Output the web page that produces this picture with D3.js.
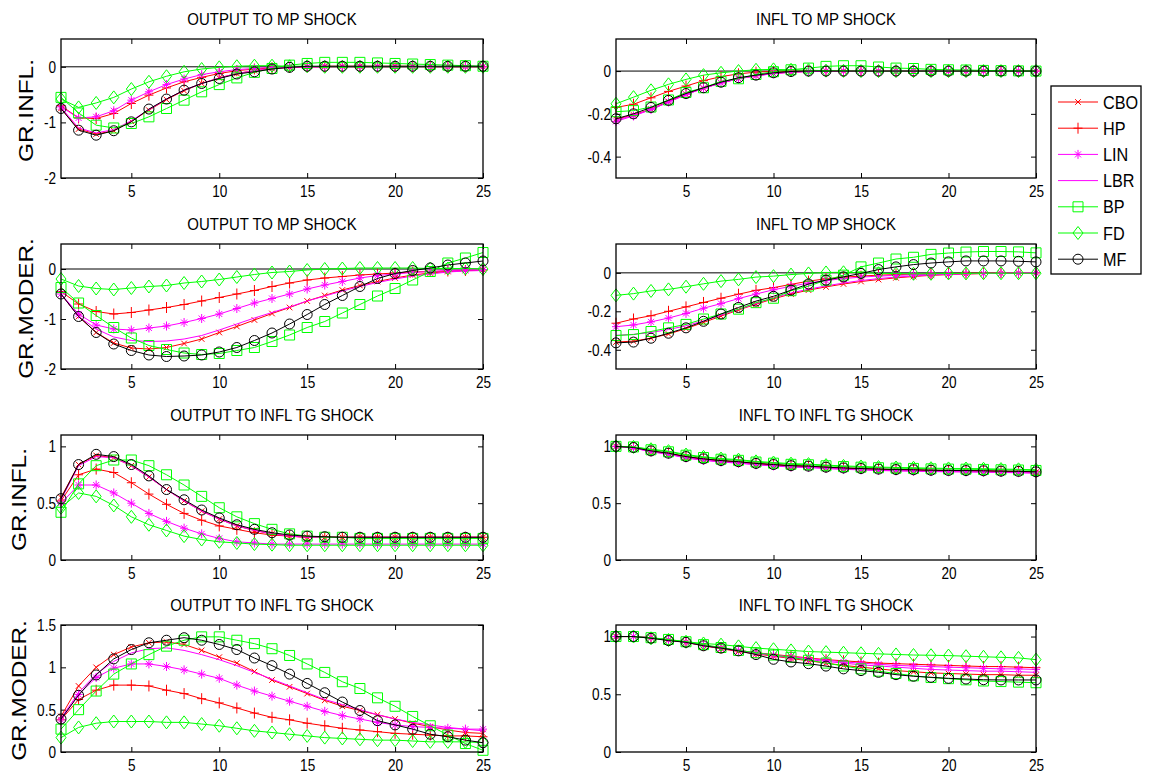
<!DOCTYPE html>
<html>
<head>
<meta charset="utf-8">
<script src="https://cdn.jsdelivr.net/npm/d3@7"></script>
<style>
  body { margin: 0; background: #fff; }
  svg { display: block; }
  text { font-family: "Liberation Sans", Arial, sans-serif; fill: #000; }
</style>
</head>
<body>
<div id="chart"></div>
<script>
// horizons 1..25
var steps = [1,2,3,4,5,6,7,8,9,10,11,12,13,14,15,16,17,18,19,20,21,22,23,24,25];
var seriesNames = ["CBO", "HP", "LIN", "LBR", "BP", "FD", "MF"];
var xTicks = [5, 10, 15, 20, 25];

// each panel: rows in seriesNames order
var outMpInfl = [
  [-0.75,-1.12,-1.21,-1.15,-0.98,-0.78,-0.59,-0.43,-0.3,-0.2,-0.12,-0.07,-0.03,-0.01,0,0.01,0.01,0.01,0.01,0.01,0.01,0,0,0,0],
  [-0.7,-0.92,-0.93,-0.84,-0.66,-0.51,-0.38,-0.27,-0.19,-0.12,-0.07,-0.04,-0.02,-0.01,0,0,0,0,0,0,0,0,0,0,0],
  [-0.72,-0.92,-0.9,-0.79,-0.6,-0.45,-0.32,-0.22,-0.14,-0.09,-0.05,-0.03,-0.01,0,0,0,0,0,0,0,0,0,0,0,0],
  [-0.73,-1.1,-1.19,-1.13,-0.97,-0.77,-0.58,-0.42,-0.3,-0.2,-0.12,-0.07,-0.03,-0.01,0,0,0,0,0,0,0,0,0,0,0],
  [-0.55,-0.83,-1.05,-1.1,-1.02,-0.9,-0.75,-0.6,-0.45,-0.32,-0.2,-0.1,-0.03,0.03,0.06,0.08,0.08,0.08,0.07,0.06,0.05,0.04,0.03,0.02,0.01],
  [-0.58,-0.73,-0.65,-0.55,-0.4,-0.27,-0.17,-0.09,-0.04,-0.01,0.01,0.02,0.02,0.01,0.01,0,0,0,0,0,0,0,0,0,0],
  [-0.75,-1.14,-1.23,-1.15,-0.99,-0.76,-0.58,-0.42,-0.3,-0.21,-0.13,-0.09,-0.04,-0.01,0.01,0.01,0.01,0.01,0.01,0.01,0.01,0.01,0.01,0.01,0.01]
];

var inflMpInfl = [
  [-0.225,-0.205,-0.178,-0.142,-0.108,-0.08,-0.055,-0.035,-0.021,-0.011,-0.005,-0.002,0,0,0,0,0,0,0,0,0,0,0,0,0],
  [-0.17,-0.155,-0.125,-0.095,-0.07,-0.045,-0.026,-0.013,-0.005,-0.001,0,0,0,0,0,0,0,0,0,0,0,0,0,0,0],
  [-0.235,-0.21,-0.18,-0.145,-0.11,-0.08,-0.056,-0.036,-0.022,-0.012,-0.005,-0.002,0,0,0,0,0,0,0,0,0,0,0,0,0],
  [-0.23,-0.207,-0.18,-0.145,-0.11,-0.08,-0.056,-0.036,-0.022,-0.012,-0.005,-0.002,0,0,0,0,0,0,0,0,0,0,0,0,0],
  [-0.19,-0.185,-0.168,-0.135,-0.1,-0.078,-0.048,-0.036,-0.016,-0.003,0.006,0.014,0.022,0.025,0.025,0.019,0.014,0.012,0.008,0.006,0.005,0.003,0.002,0.001,0],
  [-0.153,-0.122,-0.09,-0.062,-0.039,-0.019,-0.008,0,0.006,0.008,0.006,0.004,0.002,0.001,0,0,0,0,0,0,0,0,0,0,0],
  [-0.223,-0.2,-0.17,-0.137,-0.105,-0.078,-0.052,-0.031,-0.019,-0.008,-0.002,0,0,0,0,0,0,0,0,0,0,0,0,0,0]
];

var outMpModer = [
  [-0.5,-0.95,-1.27,-1.48,-1.58,-1.6,-1.57,-1.49,-1.4,-1.27,-1.15,-1.02,-0.89,-0.77,-0.64,-0.53,-0.42,-0.33,-0.25,-0.18,-0.12,-0.08,-0.05,-0.03,-0.02],
  [-0.45,-0.7,-0.85,-0.9,-0.87,-0.82,-0.77,-0.71,-0.64,-0.57,-0.5,-0.43,-0.35,-0.28,-0.22,-0.18,-0.15,-0.12,-0.1,-0.08,-0.06,-0.05,-0.04,-0.03,-0.02],
  [-0.5,-0.9,-1.12,-1.2,-1.22,-1.18,-1.14,-1.07,-0.99,-0.9,-0.79,-0.68,-0.59,-0.5,-0.4,-0.32,-0.25,-0.18,-0.13,-0.1,-0.07,-0.05,-0.03,-0.02,-0.01],
  [-0.5,-0.95,-1.2,-1.36,-1.43,-1.45,-1.44,-1.4,-1.33,-1.22,-1.1,-0.98,-0.87,-0.76,-0.64,-0.54,-0.44,-0.35,-0.27,-0.2,-0.14,-0.1,-0.06,-0.04,-0.03],
  [-0.37,-0.68,-0.93,-1.17,-1.38,-1.53,-1.61,-1.68,-1.71,-1.69,-1.63,-1.57,-1.45,-1.32,-1.17,-1.05,-0.88,-0.71,-0.54,-0.39,-0.22,-0.05,0.12,0.22,0.33],
  [-0.2,-0.34,-0.39,-0.41,-0.38,-0.35,-0.33,-0.28,-0.25,-0.21,-0.16,-0.11,-0.07,-0.05,-0.02,0,0.01,0.02,0.02,0.02,0.02,0.01,0.01,0.01,0],
  [-0.5,-0.95,-1.27,-1.5,-1.63,-1.72,-1.75,-1.74,-1.72,-1.66,-1.57,-1.43,-1.28,-1.1,-0.91,-0.71,-0.53,-0.35,-0.19,-0.09,-0.03,0.02,0.08,0.12,0.16]
];

var inflMpModer = [
  [-0.36,-0.355,-0.34,-0.318,-0.29,-0.258,-0.225,-0.193,-0.163,-0.135,-0.11,-0.09,-0.073,-0.058,-0.045,-0.035,-0.026,-0.019,-0.013,-0.009,-0.006,-0.004,-0.002,-0.001,0],
  [-0.262,-0.24,-0.223,-0.2,-0.177,-0.154,-0.132,-0.111,-0.091,-0.077,-0.06,-0.043,-0.031,-0.022,-0.017,-0.012,-0.009,-0.007,-0.005,-0.003,-0.002,-0.001,0,0,0],
  [-0.28,-0.271,-0.255,-0.235,-0.211,-0.184,-0.16,-0.134,-0.11,-0.088,-0.07,-0.053,-0.04,-0.03,-0.022,-0.017,-0.013,-0.01,-0.008,-0.006,-0.004,-0.003,-0.002,-0.001,0],
  [-0.325,-0.32,-0.31,-0.295,-0.275,-0.25,-0.22,-0.19,-0.16,-0.13,-0.105,-0.085,-0.068,-0.053,-0.04,-0.03,-0.022,-0.016,-0.011,-0.008,-0.005,-0.003,-0.002,-0.001,0],
  [-0.326,-0.321,-0.305,-0.286,-0.268,-0.24,-0.214,-0.189,-0.155,-0.132,-0.093,-0.069,-0.038,-0.012,0.031,0.051,0.072,0.081,0.096,0.103,0.108,0.111,0.111,0.109,0.104],
  [-0.117,-0.108,-0.094,-0.086,-0.072,-0.057,-0.043,-0.034,-0.022,-0.017,-0.009,-0.003,0.002,0.003,0.001,-0.002,-0.004,-0.005,-0.005,-0.003,-0.003,-0.002,-0.002,-0.002,-0.002],
  [-0.364,-0.36,-0.34,-0.314,-0.286,-0.252,-0.214,-0.18,-0.147,-0.122,-0.09,-0.058,-0.038,-0.021,-0.003,0.017,0.031,0.043,0.051,0.057,0.062,0.062,0.062,0.06,0.057]
];

var outTgInfl = [
  [0.55,0.84,0.92,0.9,0.83,0.73,0.62,0.52,0.43,0.36,0.3,0.26,0.23,0.21,0.2,0.2,0.2,0.2,0.2,0.2,0.2,0.2,0.2,0.2,0.2],
  [0.52,0.75,0.8,0.77,0.68,0.58,0.49,0.41,0.35,0.3,0.27,0.24,0.22,0.21,0.2,0.2,0.2,0.2,0.2,0.2,0.2,0.2,0.2,0.2,0.2],
  [0.5,0.66,0.66,0.59,0.5,0.41,0.34,0.28,0.23,0.19,0.16,0.15,0.14,0.14,0.14,0.14,0.14,0.14,0.14,0.14,0.14,0.14,0.14,0.14,0.14],
  [0.53,0.83,0.91,0.9,0.83,0.73,0.62,0.52,0.43,0.36,0.3,0.26,0.23,0.21,0.2,0.2,0.2,0.2,0.2,0.2,0.2,0.2,0.2,0.2,0.2],
  [0.42,0.67,0.83,0.88,0.88,0.83,0.75,0.66,0.56,0.46,0.38,0.32,0.27,0.23,0.21,0.2,0.2,0.19,0.19,0.19,0.19,0.19,0.19,0.19,0.19],
  [0.46,0.59,0.56,0.48,0.38,0.31,0.26,0.21,0.18,0.16,0.15,0.14,0.135,0.13,0.13,0.13,0.13,0.13,0.13,0.13,0.13,0.13,0.13,0.13,0.13],
  [0.54,0.84,0.93,0.91,0.84,0.74,0.62,0.53,0.44,0.37,0.31,0.27,0.24,0.22,0.21,0.205,0.2,0.2,0.2,0.2,0.2,0.2,0.2,0.2,0.2]
];

var inflTgInfl = [
  [1.0,0.99,0.958,0.937,0.907,0.887,0.872,0.862,0.847,0.837,0.827,0.823,0.814,0.807,0.802,0.797,0.793,0.791,0.787,0.785,0.784,0.782,0.779,0.777,0.773],
  [1.0,0.99,0.96,0.94,0.91,0.89,0.875,0.864,0.85,0.84,0.83,0.825,0.817,0.81,0.805,0.8,0.796,0.794,0.79,0.788,0.787,0.785,0.782,0.78,0.776],
  [1.0,0.985,0.952,0.93,0.898,0.877,0.862,0.852,0.838,0.828,0.818,0.814,0.805,0.798,0.793,0.788,0.784,0.782,0.778,0.776,0.775,0.773,0.77,0.768,0.764],
  [1.0,0.987,0.954,0.932,0.9,0.88,0.865,0.855,0.84,0.83,0.82,0.816,0.807,0.8,0.795,0.79,0.786,0.784,0.78,0.778,0.777,0.775,0.772,0.77,0.766],
  [1.0,0.995,0.97,0.952,0.922,0.902,0.887,0.877,0.862,0.852,0.842,0.838,0.829,0.822,0.817,0.812,0.808,0.806,0.802,0.8,0.799,0.797,0.794,0.792,0.788],
  [1.0,0.995,0.975,0.958,0.928,0.908,0.893,0.883,0.868,0.858,0.848,0.844,0.835,0.828,0.823,0.818,0.814,0.812,0.808,0.806,0.805,0.803,0.8,0.798,0.794],
  [1.0,0.99,0.96,0.94,0.91,0.89,0.875,0.865,0.85,0.84,0.83,0.826,0.817,0.81,0.805,0.8,0.796,0.794,0.79,0.788,0.787,0.785,0.782,0.78,0.776]
];

var outTgModer = [
  [0.42,0.78,1.0,1.15,1.24,1.29,1.3,1.27,1.2,1.12,1.05,0.95,0.85,0.77,0.69,0.61,0.54,0.49,0.44,0.39,0.34,0.3,0.26,0.23,0.22],
  [0.38,0.62,0.73,0.79,0.79,0.78,0.73,0.69,0.63,0.58,0.52,0.46,0.41,0.38,0.34,0.31,0.28,0.26,0.24,0.22,0.21,0.2,0.19,0.19,0.18],
  [0.38,0.68,0.88,0.99,1.04,1.04,1.01,0.97,0.92,0.87,0.79,0.72,0.66,0.6,0.54,0.48,0.43,0.39,0.35,0.32,0.3,0.29,0.28,0.27,0.27],
  [0.4,0.7,0.92,1.07,1.17,1.22,1.23,1.2,1.15,1.09,1.02,0.94,0.86,0.78,0.7,0.62,0.56,0.5,0.44,0.39,0.35,0.32,0.29,0.27,0.25],
  [0.27,0.5,0.72,0.92,1.04,1.15,1.25,1.32,1.36,1.36,1.32,1.28,1.22,1.14,1.04,0.94,0.83,0.75,0.64,0.54,0.42,0.31,0.2,0.1,0.02],
  [0.17,0.29,0.34,0.36,0.36,0.36,0.35,0.35,0.33,0.31,0.28,0.25,0.23,0.21,0.19,0.17,0.16,0.15,0.14,0.14,0.13,0.12,0.12,0.12,0.11],
  [0.39,0.67,0.91,1.1,1.21,1.29,1.32,1.35,1.32,1.27,1.21,1.11,1.02,0.92,0.81,0.7,0.59,0.49,0.37,0.32,0.27,0.21,0.18,0.14,0.11]
];

var inflTgModer = [
  [1.0,1.0,0.99,0.97,0.95,0.92,0.895,0.87,0.85,0.83,0.81,0.79,0.77,0.75,0.735,0.72,0.705,0.695,0.685,0.68,0.675,0.67,0.67,0.665,0.665],
  [1.0,1.0,0.99,0.97,0.95,0.925,0.9,0.88,0.86,0.845,0.83,0.815,0.8,0.79,0.78,0.77,0.765,0.76,0.755,0.75,0.745,0.74,0.74,0.735,0.73],
  [1.0,1.0,0.99,0.97,0.95,0.925,0.9,0.88,0.86,0.84,0.825,0.81,0.795,0.78,0.77,0.76,0.75,0.745,0.74,0.735,0.73,0.725,0.72,0.72,0.715],
  [1.0,1.0,0.99,0.97,0.95,0.925,0.9,0.875,0.855,0.835,0.815,0.8,0.785,0.77,0.755,0.745,0.735,0.725,0.715,0.71,0.705,0.7,0.7,0.695,0.69],
  [1.0,1.0,0.99,0.975,0.955,0.93,0.905,0.88,0.86,0.84,0.82,0.795,0.77,0.745,0.72,0.7,0.68,0.66,0.645,0.635,0.625,0.615,0.61,0.605,0.6],
  [1.0,1.0,0.985,0.97,0.955,0.94,0.93,0.915,0.9,0.89,0.88,0.87,0.865,0.86,0.855,0.85,0.845,0.84,0.838,0.835,0.83,0.825,0.82,0.815,0.8],
  [1.0,1.0,0.985,0.965,0.95,0.92,0.9,0.876,0.844,0.803,0.78,0.765,0.744,0.72,0.705,0.69,0.67,0.656,0.647,0.638,0.632,0.626,0.624,0.624,0.624]
];

var panelTitles = ["OUTPUT TO MP SHOCK", "INFL TO MP SHOCK", "OUTPUT TO MP SHOCK", "INFL TO MP SHOCK",
                   "OUTPUT TO INFL TG SHOCK", "INFL TO INFL TG SHOCK", "OUTPUT TO INFL TG SHOCK", "INFL TO INFL TG SHOCK"];
var rowLabels = ["GR.INFL.", "GR.MODER.", "GR.INFL.", "GR.MODER."];
var panelData = [outMpInfl, inflMpInfl, outMpModer, inflMpModer, outTgInfl, inflTgInfl, outTgModer, inflTgModer];
var yDomains = [[-2, 0.5], [-0.5, 0.15], [-2, 0.5], [-0.5, 0.15], [0, 1.1], [0, 1.1], [0, 1.5], [0, 1.1]];
var yTickVals = [[-2, -1, 0], [-0.4, -0.2, 0], [-2, -1, 0], [-0.4, -0.2, 0], [0, 0.5, 1], [0, 0.5, 1], [0, 0.5, 1, 1.5], [0, 0.5, 1]];

// styles
var colors = ["#ff0000", "#ff0000", "#ff00ff", "#ff00ff", "#00ff00", "#00ff00", "#000000"];
var markers = ["x", "plus", "star", "none", "square", "diamond", "circle"];

var width = 1152, height = 780;
var colX = [[61, 483], [616, 1036]];
var rowY = [[39, 178], [244, 369], [435, 560], [625, 752]];
var labelX = [33, 33, 26, 26];

var svg = d3.select("#chart")
  .append("svg")
  .attr("width", width)
  .attr("height", height);

// the source fonts are narrow: squeeze text to a share of its natural length
function squeeze(sel, f) {
  sel.each(function() {
    var w = this.getComputedTextLength();
    d3.select(this).attr("textLength", w * f).attr("lengthAdjust", "spacingAndGlyphs");
  });
}

function markerPath(m) {
  if (m == "x") return "M-2.8,-2.8L2.8,2.8M-2.8,2.8L2.8,-2.8";
  if (m == "plus") return "M-4.5,0L4.5,0M0,-5.5L0,5.5";
  if (m == "star") return "M-4,0L4,0M0,-4.5L0,4.5M-3,-3L3,3M-3,3L3,-3";
  if (m == "square") return "M-5,-5L5,-5L5,5L-5,5Z";
  if (m == "diamond") return "M0,-6.5L5,0L0,6.5L-5,0Z";
  if (m == "circle") return "M5,0A5,5 0 1,1 -5,0A5,5 0 1,1 5,0Z";
  return null;
}

function fmt(v) {
  return String(v);
}

panelData.forEach(function(rows, i) {
  var r = Math.floor(i / 2), c = i % 2;
  var x = d3.scaleLinear().domain([1, 25]).range(colX[c]);
  var y = d3.scaleLinear().domain(yDomains[i]).range([rowY[r][1], rowY[r][0]]);
  var g = svg.append("g");

  // zero line
  if (yDomains[i][0] < 0) {
    g.append("line")
      .attr("x1", x(1)).attr("x2", x(25))
      .attr("y1", y(0)).attr("y2", y(0))
      .attr("stroke", "#000").attr("stroke-width", 1);
  }

  // axes, ticks pointing in
  var bottom = g.append("g").attr("transform", "translate(0," + rowY[r][1] + ")")
    .call(d3.axisBottom(x).tickValues(xTicks).tickSizeInner(-5).tickSizeOuter(0).tickPadding(7).tickFormat(fmt));
  var top = g.append("g").attr("transform", "translate(0," + rowY[r][0] + ")")
    .call(d3.axisTop(x).tickValues(xTicks).tickSizeInner(-5).tickSizeOuter(0).tickFormat(""));
  var left = g.append("g").attr("transform", "translate(" + colX[c][0] + ",0)")
    .call(d3.axisLeft(y).tickValues(yTickVals[i]).tickSizeInner(-5).tickSizeOuter(0).tickPadding(5).tickFormat(fmt));
  var right = g.append("g").attr("transform", "translate(" + colX[c][1] + ",0)")
    .call(d3.axisRight(y).tickValues(yTickVals[i]).tickSizeInner(-5).tickSizeOuter(0).tickFormat(""));
  [bottom, top, left, right].forEach(function(a) {
    a.select(".domain").remove();
    a.selectAll("line").attr("stroke", "#000");
    a.selectAll("text").attr("font-size", 17).attr("font-family", "'Liberation Sans', Arial, sans-serif");
  });
  squeeze(bottom.selectAll("text"), 0.8);
  squeeze(left.selectAll("text"), 0.8);

  var line = d3.line()
    .x(function(d, k) { return x(steps[k]); })
    .y(function(d) { return y(d); });

  rows.forEach(function(vals, s) {
    g.append("path")
      .attr("d", line(vals))
      .attr("fill", "none")
      .attr("stroke", colors[s])
      .attr("stroke-width", 1);
    var mp = markerPath(markers[s]);
    if (mp) {
      g.selectAll(".m" + s)
        .data(vals)
        .enter().append("path")
        .attr("class", "m" + s)
        .attr("d", mp)
        .attr("transform", function(d, k) { return "translate(" + x(steps[k]) + "," + y(d) + ")"; })
        .attr("fill", "none")
        .attr("stroke", colors[s])
        .attr("stroke-width", 1);
    }
  });

  // box
  g.append("rect")
    .attr("x", colX[c][0]).attr("y", rowY[r][0])
    .attr("width", colX[c][1] - colX[c][0])
    .attr("height", rowY[r][1] - rowY[r][0])
    .attr("fill", "none").attr("stroke", "#000").attr("stroke-width", 1.3);

  // title
  var t = g.append("text")
    .attr("x", (colX[c][0] + colX[c][1]) / 2)
    .attr("y", rowY[r][0] - 14)
    .attr("text-anchor", "middle")
    .attr("font-size", 17)
    .text(panelTitles[i]);
  squeeze(t, 0.88);

  // row label
  if (c == 0) {
    var cy = (rowY[r][0] + rowY[r][1]) / 2 + 2;
    var lab = g.append("text")
      .attr("transform", "translate(" + labelX[r] + "," + cy + ") rotate(-90)")
      .attr("text-anchor", "middle")
      .attr("font-size", 21)
      .text(rowLabels[r]);
    squeeze(lab, 1.16);
  }
});

// legend
var leg = svg.append("g");
leg.append("rect")
  .attr("x", 1051).attr("y", 86)
  .attr("width", 90).attr("height", 188)
  .attr("fill", "#fff").attr("stroke", "#000").attr("stroke-width", 1.3);
seriesNames.forEach(function(name, s) {
  var ly = 102 + s * 26.2;
  leg.append("line")
    .attr("x1", 1058).attr("x2", 1098)
    .attr("y1", ly).attr("y2", ly)
    .attr("stroke", colors[s]).attr("stroke-width", 1);
  var mp = markerPath(markers[s]);
  if (mp) {
    leg.append("path")
      .attr("d", mp)
      .attr("transform", "translate(1078," + ly + ")")
      .attr("fill", "none").attr("stroke", colors[s]).attr("stroke-width", 1);
  }
  var lt = leg.append("text")
    .attr("x", 1103).attr("y", ly + 6.5)
    .attr("font-size", 18)
    .text(name);
  squeeze(lt, 0.9);
});
</script>
</body>
</html>
